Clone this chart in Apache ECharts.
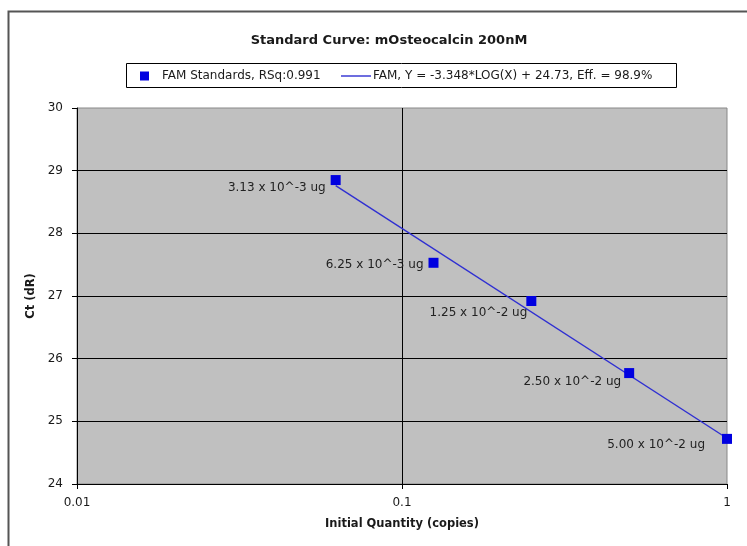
<!DOCTYPE html>
<html>
<head>
<meta charset="utf-8">
<script src="https://cdn.jsdelivr.net/npm/echarts@6/dist/echarts.min.js"></script>
<style>
  html, body { margin: 0; padding: 0; background: #fff; }
  #chart { width: 747px; height: 546px; }
</style>
</head>
<body>
<div id="chart"></div>
<script>
// standards: quantity vs Ct
const quantities = [0.0625, 0.125, 0.25, 0.5, 1];
const ctValues = [28.85, 27.53, 26.92, 25.77, 24.72];
const pointLabels = [
  "3.13 x 10^-3 ug",
  "6.25 x 10^-3 ug",
  "1.25 x 10^-2 ug",
  "2.50 x 10^-2 ug",
  "5.00 x 10^-2 ug"
];
// fitted line end points
const fitX = [0.0625, 1];
const fitY = [28.76, 24.73];

const scatterName = "FAM Standards, RSq:0.991";
const lineName = "FAM, Y = -3.348*LOG(X) + 24.73, Eff. = 98.9%";

// label nudges (style only)
const labelOffsets = [[0, 8], [0, 2], [6, 12], [2, 9], [-12, 6]];

const font = "DejaVu Sans";
const ink = "#1a1a1a";
const chart = echarts.init(document.getElementById("chart"));

const points = quantities.map((q, i) => ({
  value: [q, ctValues[i]],
  label: { offset: labelOffsets[i] }
}));

chart.setOption({
  animation: false,
  textStyle: { fontFamily: font },
  title: {
    text: "Standard Curve: mOsteocalcin 200nM",
    left: 384, top: 29, textAlign: "center",
    textStyle: { fontSize: 13, fontWeight: "bold", color: ink, fontFamily: font }
  },
  graphic: [
    { type: "rect", left: 6, top: 9, shape: { width: 800, height: 600 },
      style: { fill: null, stroke: "#555", lineWidth: 2 }, silent: true },
    { type: "rect", left: 126, top: 63, shape: { width: 550, height: 24 },
      style: { fill: "#fff", stroke: "#000", lineWidth: 1 }, silent: true, z: 0 }
  ],
  legend: [
    {
      data: [scatterName], left: 140, top: 70, itemWidth: 9, itemHeight: 9,
      padding: 0, icon: "rect", z: 5,
      textStyle: { fontSize: 12, color: ink, fontFamily: font, padding: [0, 0, 0, 8] }
    },
    {
      data: [lineName], left: 341, top: 70, itemWidth: 30, itemHeight: 1.4,
      padding: 0, icon: "rect", z: 5,
      textStyle: { fontSize: 12, color: ink, fontFamily: font, padding: [0, 0, 0, -3] }
    }
  ],
  grid: {
    left: 77, right: 20, top: 108, bottom: 62,
    show: true, backgroundColor: "#c0c0c0", borderColor: "#888", borderWidth: 1
  },
  xAxis: {
    type: "log", logBase: 10, min: 0.01, max: 1,
    name: "Initial Quantity (copies)", nameLocation: "middle", nameGap: 34,
    nameTextStyle: { fontSize: 11.5, fontWeight: "bold", color: ink },
    axisLine: { show: true, lineStyle: { color: "#000", width: 1 } },
    axisTick: { show: true, length: 5, lineStyle: { color: "#000" } },
    axisLabel: { fontSize: 12, color: ink, margin: 13,
      formatter: v => String(+v.toPrecision(3)) },
    splitLine: { show: true, showMinLine: false, showMaxLine: false,
      lineStyle: { color: "#000", width: 1 } },
    minorTick: { show: false }
  },
  yAxis: {
    type: "value", min: 24, max: 30, interval: 1,
    name: "Ct (dR)", nameLocation: "middle", nameGap: 36, nameRotate: 90,
    nameTextStyle: { fontSize: 11.5, fontWeight: "bold", color: ink },
    axisLine: { show: true, lineStyle: { color: "#000", width: 1 } },
    axisTick: { show: true, length: 5, lineStyle: { color: "#000" } },
    axisLabel: { fontSize: 12, color: ink, margin: 14 },
    splitLine: { show: true, showMaxLine: false, lineStyle: { color: "#000", width: 1 } }
  },
  series: [
    {
      name: lineName, type: "line", symbol: "none",
      data: fitX.map((x, i) => [x, fitY[i]]),
      lineStyle: { color: "#2f2fd2", width: 1.4 },
      itemStyle: { color: "#2f2fd2" },
      z: 3
    },
    {
      name: scatterName, type: "scatter", symbol: "rect", symbolSize: 10,
      data: points,
      itemStyle: { color: "#0000e0", opacity: 1 },
      label: {
        show: true, position: "left", distance: 5,
        fontSize: 12, color: "#222",
        formatter: p => pointLabels[p.dataIndex]
      },
      z: 4
    }
  ]
});
</script>
</body>
</html>
